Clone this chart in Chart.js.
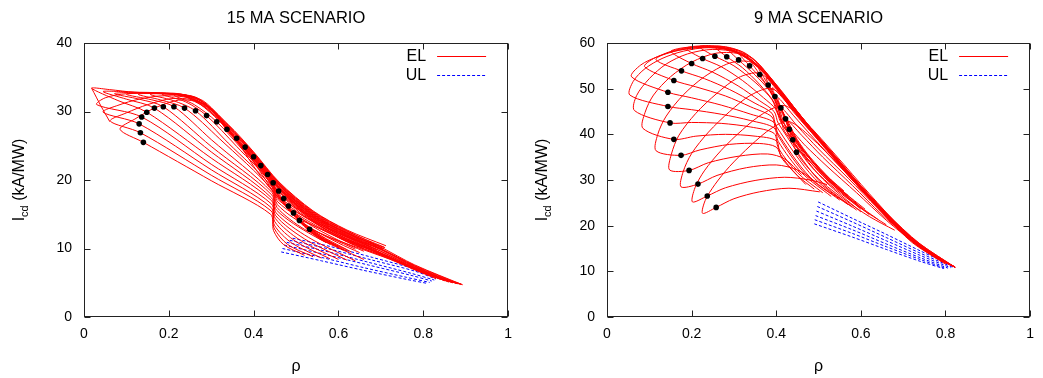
<!DOCTYPE html>
<html>
<head>
<meta charset="utf-8">
<script src="https://cdn.jsdelivr.net/npm/chart.js@4.4.1/dist/chart.umd.min.js"></script>
<style>
  body { margin: 0; background: #fff; width: 1043px; height: 378px; overflow: hidden; }
  canvas { position: absolute; top: 0; }
</style>
</head>
<body>
<canvas id="c15" width="521" height="378" style="left:0"></canvas>
<canvas id="c9" width="522" height="378" style="left:521px"></canvas>
<script>
// tick values
const xTicks = [0, 0.2, 0.4, 0.6, 0.8, 1];
const yTicks15 = [0, 10, 20, 30, 40];
const yTicks9 = [0, 10, 20, 30, 40, 50, 60];

// 15 MA: black markers
const rho15Dots = [0.140,0.133,0.130,0.136,0.148,0.166,0.187,0.212,0.237,0.263,0.289,0.313,0.337,0.360,0.380,0.400,0.417,0.433,0.446,0.459,0.471,0.482,0.494,0.508,0.532];
const icd15Dots = [25.5,26.9,28.2,29.2,29.9,30.5,30.7,30.7,30.5,30.1,29.4,28.5,27.4,26.1,24.8,23.4,22.1,20.8,19.6,18.4,17.3,16.2,15.2,14.1,12.8];

// 15 MA: EL curves, [rho, Icd]
const el15Curves = [
  [[.018,33.4],[.04,30.8],[.061,28.5]],
  [[.52,9.0],[.47,10.6],[.447,12.6],[.44,15.0],[.30,19.9],[.14,25.5],[.085,27.4],[.12,28.9],[.17,30.6],[.23,31.7],[.29,30.9],[.34,28.0],[.40,24.0],[.46,19.6],[.54,15.4],[.62,12.6],[.70,10.2],[.78,7.6],[.893,4.7]],
  [[.54,8.8],[.48,10.6],[.448,13.0],[.441,15.5],[.30,20.7],[.133,26.9],[.062,28.6],[.10,29.8],[.15,31.0],[.21,31.9],[.27,31.4],[.34,27.8],[.40,23.8],[.46,19.4],[.54,15.2],[.62,12.4],[.70,10.0],[.78,7.5],[.888,4.75]],
  [[.56,8.6],[.49,10.8],[.449,13.4],[.441,16.0],[.30,21.5],[.13,28.2],[.045,29.9],[.08,30.9],[.13,31.8],[.19,32.3],[.26,31.7],[.34,27.6],[.40,23.6],[.46,19.2],[.54,15.0],[.62,12.2],[.70,9.9],[.78,7.4],[.88,4.85]],
  [[.58,8.5],[.50,11.0],[.45,13.9],[.442,16.5],[.30,22.3],[.136,29.2],[.03,31.0],[.05,32.0],[.10,32.6],[.17,32.6],[.25,32.0],[.34,27.4],[.40,23.4],[.46,19.0],[.54,14.8],[.62,12.0],[.70,9.8],[.78,7.3],[.87,5.0]],
  [[.60,8.4],[.51,11.2],[.451,14.4],[.442,17.0],[.30,23.2],[.148,29.9],[.08,31.6],[.018,33.4],[.06,33.2],[.12,32.8],[.20,32.6],[.27,31.7],[.34,28.1],[.40,24.1],[.46,19.7],[.54,15.5],[.62,12.7],[.712,10.4]],
  [[.62,8.3],[.52,11.4],[.452,14.8],[.442,17.4],[.30,24.1],[.166,30.5],[.10,31.8],[.045,32.9],[.09,32.9],[.15,32.7],[.22,32.4],[.28,31.2],[.34,27.9],[.40,23.9],[.46,19.5],[.54,15.3],[.62,12.5],[.708,10.2]],
  [[.64,8.2],[.53,11.6],[.453,15.2],[.443,17.8],[.30,24.9],[.187,30.7],[.13,31.8],[.072,32.6],[.12,32.8],[.18,32.7],[.24,32.2],[.30,30.3],[.34,27.2],[.40,23.2],[.46,18.8],[.54,14.6],[.62,11.8],[.70,9.6],[.78,7.2],[.86,5.15]],
  [[.66,8.4],[.54,11.9],[.454,15.6],[.443,18.2],[.30,25.9],[.212,30.7],[.16,31.7],[.10,32.5],[.15,32.7],[.21,32.6],[.27,31.8],[.34,27.7],[.40,23.7],[.46,19.3],[.54,15.1],[.62,12.3],[.705,10.0]],
  [[.62,9.8],[.52,12.8],[.455,16.0],[.443,18.6],[.32,26.0],[.237,30.5],[.18,31.7],[.128,32.5],[.18,32.7],[.24,32.4],[.30,30.2],[.34,27.0],[.40,23.0],[.46,18.6],[.54,14.4],[.62,11.6],[.70,9.4],[.78,7.1],[.85,5.3]],
  [[.64,9.9],[.53,13.1],[.456,16.4],[.443,19.0],[.34,25.4],[.263,30.1],[.21,31.6],[.156,32.5],[.21,32.6],[.27,31.9],[.32,28.8],[.36,25.9],[.40,22.8],[.46,18.4],[.54,14.2],[.62,11.4],[.70,9.3],[.78,7.0],[.84,5.5]],
  [[.66,10.0],[.54,13.4],[.457,16.8],[.444,19.3],[.36,24.9],[.289,29.4],[.24,31.4],[.184,32.5],[.24,32.4],[.29,31.0],[.34,27.3],[.40,23.3],[.46,18.9],[.54,14.7],[.62,11.9],[.70,9.9]],
  [[.68,10.1],[.55,13.7],[.458,17.1],[.444,19.6],[.38,24.0],[.313,28.5],[.26,31.0],[.212,32.4],[.26,32.1],[.31,29.8],[.36,25.6],[.40,22.6],[.46,18.2],[.54,14.0],[.62,11.2],[.70,9.2],[.78,6.9],[.83,5.6]],
  [[.69,10.4],[.56,14.0],[.459,17.5],[.444,19.9],[.39,23.6],[.337,27.4],[.29,30.4],[.24,32.2],[.28,31.6],[.32,29.2],[.36,25.9],[.40,23.1],[.46,18.7],[.54,14.5],[.62,11.7],[.69,9.8]],
  [[.66,9.6],[.60,11.2],[.52,14.0],[.45,18.0],[.40,22.0],[.36,26.1],[.40,23.2],[.46,19.0],[.54,14.9],[.62,12.1],[.70,9.9],[.78,7.4],[.85,5.4]],
  [[.65,9.4],[.60,10.8],[.52,13.6],[.46,17.2],[.42,20.8],[.38,24.8],[.42,22.0],[.46,19.2],[.54,15.0],[.62,12.2],[.71,10.1]],
  [[.63,9.5],[.54,12.6],[.48,16.0],[.44,19.4],[.40,23.4],[.44,20.8],[.50,16.8],[.56,13.9],[.62,11.9],[.70,9.6],[.78,7.2],[.88,4.85]],
  [[.62,9.6],[.55,12.0],[.49,15.2],[.45,18.4],[.417,22.1],[.46,19.0],[.52,15.4],[.60,12.2],[.705,9.9]],
  [[.61,9.8],[.56,11.6],[.50,14.6],[.46,17.6],[.433,20.8],[.47,18.2],[.52,15.2],[.60,12.0],[.68,9.9],[.78,7.0],[.87,5.0]],
  [[.60,10.2],[.56,11.8],[.51,14.0],[.47,16.8],[.446,19.6],[.48,17.4],[.54,14.2],[.62,11.4],[.70,9.3],[.78,7.1],[.86,5.1]],
  [[.59,10.4],[.57,11.2],[.52,13.4],[.48,16.0],[.459,18.4],[.50,16.0],[.56,13.2],[.62,11.2],[.70,9.2],[.72,8.8]],
  [[.58,10.6],[.53,12.8],[.49,15.2],[.471,17.3],[.51,15.2],[.58,12.4],[.66,10.2],[.76,7.6],[.85,5.3]],
  [[.57,10.9],[.54,12.2],[.50,14.4],[.482,16.2],[.52,14.6],[.60,11.8],[.68,9.7],[.78,7.0],[.89,4.8]],
  [[.57,10.9],[.55,11.8],[.52,13.4],[.494,15.2],[.54,13.6],[.62,11.0],[.70,9.0],[.80,6.4],[.87,5.0]],
  [[.58,10.7],[.56,11.4],[.53,12.6],[.508,14.1],[.56,12.8],[.64,10.4],[.72,8.6],[.80,6.5],[.88,4.9]],
  [[.57,10.9],[.55,11.6],[.532,12.8],[.58,11.6],[.66,9.8],[.74,8.0],[.82,6.0],[.89,4.75]]
];

// 15 MA: UL curves
const ul15Curves = [
  [[.465,9.5],[.56,8.2],[.66,6.8],[.76,5.5],[.81,4.9]],
  [[.468,10.0],[.56,8.7],[.66,7.2],[.76,5.8],[.815,5.05]],
  [[.472,10.5],[.57,9.1],[.67,7.6],[.77,6.1],[.82,5.25]],
  [[.478,10.9],[.57,9.6],[.67,8.0],[.77,6.4],[.826,5.4]],
  [[.485,11.2],[.58,9.9],[.68,8.3],[.78,6.7],[.83,5.55]],
  [[.492,11.5],[.58,10.3],[.68,8.7],[.78,7.0],[.834,5.7]]
];

// 9 MA: black markers
const rho9Dots = [0.258,0.237,0.215,0.194,0.175,0.158,0.149,0.144,0.144,0.158,0.176,0.200,0.226,0.255,0.283,0.311,0.337,0.361,0.381,0.397,0.411,0.422,0.431,0.439,0.448];
const icd9Dots = [24.0,26.5,29.1,32.1,35.4,38.9,42.5,46.1,49.2,51.8,53.9,55.5,56.6,57.1,57.0,56.3,55.0,53.1,50.8,48.3,45.8,43.4,41.1,38.8,36.1];

// 9 MA: EL curves
const el9Curves = [
  [[.503,27.4],[.43,28.2],[.36,27.4],[.30,25.9],[.258,24.0],[.226,22.7],[.232,25.5],[.255,29.0],[.29,33.0],[.34,37.6],[.39,41.4],[.43,42.8],[.48,39.5],[.55,33.0],[.62,26.0],[.70,18.8],[.76,14.3],[.823,10.9]],
  [[.52,29.0],[.48,30.0],[.42,30.6],[.35,29.9],[.28,28.3],[.237,26.5],[.202,25.2],[.208,28.3],[.23,32.0],[.27,36.5],[.32,41.0],[.37,44.6],[.42,46.3],[.47,42.6],[.54,35.5],[.62,27.0],[.70,19.0],[.76,14.4],[.82,11.0]],
  [[.49,29.8],[.45,32.2],[.40,33.3],[.33,32.7],[.26,31.0],[.215,29.1],[.175,28.5],[.18,31.8],[.20,35.8],[.24,40.5],[.29,45.0],[.34,48.6],[.39,50.0],[.44,45.5],[.52,37.0],[.60,28.6],[.68,20.8],[.75,14.9],[.815,11.2]],
  [[.46,31.2],[.42,34.6],[.38,35.7],[.31,35.2],[.24,33.8],[.194,32.1],[.148,32.2],[.152,35.6],[.17,39.8],[.21,44.6],[.26,49.0],[.31,52.4],[.36,53.4],[.40,50.2],[.46,43.6],[.54,35.2],[.62,26.6],[.70,18.6],[.76,14.2],[.81,11.4]],
  [[.47,29.0],[.415,34.5],[.40,37.2],[.36,38.0],[.29,37.8],[.22,36.6],[.175,35.4],[.116,36.4],[.12,40.0],[.14,44.0],[.18,48.6],[.23,52.6],[.29,55.6],[.34,55.8],[.385,52.0],[.44,45.0],[.52,36.6],[.60,28.0],[.68,20.0],[.74,15.2],[.80,11.6]],
  [[.49,28.0],[.45,31.0],[.41,35.6],[.40,38.6],[.35,39.6],[.28,40.0],[.21,39.6],[.158,38.9],[.085,41.3],[.09,44.8],[.11,48.6],[.15,52.6],[.20,55.8],[.26,57.8],[.32,57.4],[.37,53.6],[.43,46.4],[.50,38.6],[.58,30.0],[.66,22.0],[.72,16.4],[.79,12.2]],
  [[.51,27.2],[.45,31.6],[.405,37.0],[.395,40.2],[.34,41.6],[.27,42.4],[.20,42.6],[.149,42.5],[.065,45.2],[.07,48.5],[.10,52.2],[.14,55.4],[.19,57.6],[.25,58.6],[.31,57.8],[.36,54.6],[.42,47.8],[.49,40.0],[.57,31.4],[.65,23.2],[.72,16.6],[.80,11.8]],
  [[.53,26.4],[.46,31.6],[.405,38.4],[.395,41.4],[.34,43.0],[.27,44.4],[.20,45.4],[.144,46.1],[.054,48.6],[.062,51.6],[.09,54.4],[.13,56.6],[.18,58.2],[.24,59.0],[.30,58.3],[.35,55.6],[.41,49.2],[.48,41.2],[.56,32.4],[.64,24.0],[.71,17.4],[.78,12.8]],
  [[.55,25.6],[.47,31.2],[.405,39.6],[.395,42.6],[.34,44.4],[.27,46.4],[.20,48.0],[.144,49.2],[.058,52.6],[.08,55.2],[.12,57.0],[.17,58.4],[.23,59.0],[.29,58.4],[.34,56.0],[.40,50.6],[.47,42.6],[.55,33.6],[.63,25.0],[.70,18.6],[.77,13.4]],
  [[.57,24.6],[.48,30.6],[.40,40.8],[.39,43.8],[.34,46.0],[.28,48.4],[.21,50.4],[.158,51.8],[.089,54.8],[.11,56.6],[.15,58.0],[.20,58.9],[.26,59.0],[.31,57.8],[.36,54.4],[.42,48.0],[.49,40.2],[.57,31.4],[.65,23.0],[.72,16.8],[.82,11.0]],
  [[.58,24.0],[.49,30.4],[.40,41.8],[.39,44.6],[.35,46.8],[.29,49.8],[.23,52.2],[.176,53.9],[.116,56.3],[.14,57.8],[.18,58.8],[.23,59.2],[.28,58.8],[.33,56.8],[.38,52.6],[.44,45.8],[.51,37.8],[.59,29.0],[.67,21.0],[.74,15.4],[.822,10.9]],
  [[.59,23.4],[.50,30.0],[.405,42.4],[.395,45.0],[.36,47.4],[.31,50.6],[.25,53.6],[.20,55.5],[.151,58.1],[.17,58.8],[.21,59.2],[.26,59.2],[.31,58.0],[.36,54.8],[.42,48.4],[.49,40.4],[.57,31.6],[.65,23.2],[.72,16.8],[.821,10.95]],
  [[.60,23.0],[.50,31.2],[.41,42.8],[.40,45.4],[.37,48.0],[.32,51.8],[.27,54.8],[.226,56.6],[.187,58.8],[.21,59.3],[.25,59.3],[.29,58.7],[.34,56.2],[.39,51.6],[.45,44.6],[.53,36.0],[.61,27.4],[.69,19.8],[.76,14.2],[.823,10.9]],
  [[.61,23.6],[.51,31.4],[.405,44.2],[.39,47.6],[.35,51.4],[.30,55.0],[.255,57.1],[.218,59.2],[.25,59.4],[.29,58.9],[.33,57.2],[.38,52.8],[.44,45.6],[.52,37.0],[.60,28.4],[.68,20.6],[.75,15.0],[.82,11.0]],
  [[.56,27.6],[.50,32.6],[.41,43.4],[.395,47.0],[.36,51.0],[.32,54.6],[.283,57.0],[.255,59.2],[.29,59.0],[.33,57.6],[.37,54.2],[.42,48.0],[.50,39.2],[.58,30.6],[.66,22.6],[.74,15.8],[.815,11.2]],
  [[.54,29.0],[.49,33.6],[.415,42.0],[.405,45.4],[.385,49.4],[.35,53.0],[.311,56.3],[.285,58.8],[.32,58.0],[.36,55.2],[.41,49.6],[.48,41.6],[.56,32.8],[.64,24.4],[.72,17.2],[.80,11.8]],
  [[.55,27.6],[.50,32.0],[.42,40.6],[.41,44.0],[.395,48.0],[.37,51.6],[.337,55.0],[.312,57.8],[.345,56.6],[.385,52.6],[.43,47.2],[.50,39.4],[.58,30.8],[.66,22.8],[.74,16.0],[.823,10.9]],
  [[.57,26.6],[.52,30.4],[.44,38.0],[.42,42.0],[.405,46.0],[.385,49.6],[.361,53.1],[.338,56.4],[.37,54.0],[.41,49.8],[.46,43.8],[.53,36.2],[.61,27.6],[.69,20.0],[.76,14.2],[.82,11.0]],
  [[.58,25.4],[.53,29.8],[.47,35.6],[.44,39.6],[.42,43.4],[.40,47.4],[.381,50.8],[.358,54.6],[.39,51.6],[.43,46.8],[.49,40.2],[.56,32.6],[.64,24.6],[.72,17.4],[.818,11.1]],
  [[.60,23.6],[.55,27.6],[.50,32.4],[.46,37.0],[.435,41.0],[.415,45.0],[.397,48.3],[.376,52.4],[.41,48.8],[.45,44.4],[.51,37.8],[.58,30.2],[.66,22.6],[.74,15.8],[.82,11.0]],
  [[.60,24.0],[.53,30.0],[.48,35.0],[.45,38.8],[.43,42.4],[.411,45.8],[.391,50.2],[.43,46.4],[.47,42.0],[.53,35.6],[.60,28.2],[.68,20.6],[.75,15.0],[.82,11.0]],
  [[.62,22.4],[.56,27.0],[.50,32.4],[.465,36.4],[.44,40.0],[.422,43.4],[.404,48.0],[.44,44.2],[.49,39.0],[.55,33.0],[.62,26.0],[.70,18.8],[.77,13.6],[.82,11.0]],
  [[.64,21.4],[.58,25.4],[.52,30.0],[.48,34.0],[.45,37.8],[.431,41.1],[.414,45.6],[.45,41.8],[.50,36.8],[.57,30.4],[.64,23.8],[.71,17.8],[.78,13.0],[.822,11.0]],
  [[.66,20.2],[.60,23.8],[.54,28.0],[.49,32.2],[.46,35.6],[.439,38.8],[.424,43.2],[.46,39.8],[.51,35.0],[.58,28.8],[.65,22.4],[.72,16.8],[.79,12.4],[.822,11.0]],
  [[.68,19.0],[.62,22.0],[.56,25.8],[.51,29.4],[.47,33.2],[.448,36.1],[.434,40.8],[.47,37.4],[.52,33.0],[.59,27.2],[.66,21.2],[.73,16.0],[.79,12.4],[.823,10.9]]
];

// 9 MA: UL curves
const ul9Curves = [
  [[.499,25.2],[.58,21.6],[.66,18.1],[.74,14.5],[.823,10.9]],
  [[.497,24.2],[.58,20.8],[.66,17.4],[.74,14.0],[.818,10.85]],
  [[.495,23.2],[.58,19.9],[.66,16.7],[.74,13.5],[.812,10.8]],
  [[.493,22.2],[.58,19.1],[.66,16.0],[.74,13.0],[.806,10.7]],
  [[.491,21.3],[.58,18.3],[.66,15.4],[.74,12.6],[.80,10.65]],
  [[.490,20.4],[.58,17.5],[.66,14.8],[.74,12.2],[.796,10.6]]
];

const FONT = "'Liberation Sans', Arial, Helvetica, sans-serif";

const framePlugin = {
  id: 'frame',
  afterDraw(chart, args, o) {
    const { ctx, chartArea: a, scales } = chart;
    ctx.save();
    ctx.strokeStyle = '#222';
    ctx.lineWidth = 1;
    const L = Math.round(a.left) + 0.5, R = Math.round(a.right) - 0.5;
    const T = Math.round(a.top) + 0.5, B = Math.round(a.bottom) - 0.5;
    ctx.strokeRect(L, T, R - L, B - T);
    ctx.beginPath();
    xTicks.forEach(v => {
      const px = Math.round(scales.x.getPixelForValue(v)) + 0.5;
      ctx.moveTo(px, B); ctx.lineTo(px, B - 6);
      ctx.moveTo(px, T); ctx.lineTo(px, T + 6);
    });
    o.yTicks.forEach(v => {
      const py = Math.round(scales.y.getPixelForValue(v)) + 0.5;
      ctx.moveTo(L, py); ctx.lineTo(L + 6, py);
      ctx.moveTo(R, py); ctx.lineTo(R - 6, py);
    });
    ctx.stroke();

    // legend
    ctx.fillStyle = '#000';
    ctx.font = '16px ' + FONT;
    ctx.textAlign = 'right';
    ctx.textBaseline = 'middle';
    ctx.fillText('EL', a.right - 82, a.top + 14);
    ctx.fillText('UL', a.right - 82, a.top + 33);
    ctx.strokeStyle = '#ff0000';
    ctx.beginPath(); ctx.moveTo(a.right - 71, a.top + 13.5); ctx.lineTo(a.right - 22, a.top + 13.5); ctx.stroke();
    ctx.strokeStyle = '#0000ff';
    ctx.setLineDash([3, 2]);
    ctx.beginPath(); ctx.moveTo(a.right - 71, a.top + 32.5); ctx.lineTo(a.right - 22, a.top + 32.5); ctx.stroke();
    ctx.setLineDash([]);

    // title and x label
    const cx = (a.left + a.right) / 2;
    ctx.textAlign = 'center';
    ctx.textBaseline = 'alphabetic';
    ctx.font = '16.5px ' + FONT;
    ctx.fillText(o.title, cx, 23);
    ctx.font = '16px ' + FONT;
    ctx.fillText('\u03c1', cx, 371);

    // y label with subscript
    ctx.save();
    ctx.translate(o.yLabelX, (a.top + a.bottom) / 2);
    ctx.rotate(-Math.PI / 2);
    ctx.textAlign = 'left';
    const big = '16px ' + FONT, small = '11px ' + FONT;
    ctx.font = big; const w1 = ctx.measureText('I').width;
    ctx.font = small; const w2 = ctx.measureText('cd').width;
    ctx.font = big; const w3 = ctx.measureText(' (kA/MW)').width;
    let x0 = -(w1 + w2 + w3) / 2;
    ctx.font = big; ctx.fillText('I', x0, 6);
    ctx.font = small; ctx.fillText('cd', x0 + w1, 10);
    ctx.font = big; ctx.fillText(' (kA/MW)', x0 + w1 + w2, 6);
    ctx.restore();
    ctx.restore();
  }
};

function makeChart(id, cfg) {
  const datasets = [];
  datasets.push({
    data: cfg.dotRho.map((r, i) => ({ x: r, y: cfg.dotI[i] })),
    showLine: false, pointRadius: 2.8,
    backgroundColor: '#000', borderColor: '#000',
    pointBackgroundColor: '#000', pointBorderColor: '#000',
    pointBorderWidth: 0, order: 0
  });
  cfg.el.forEach(c => datasets.push({
    data: c.map(p => ({ x: p[0], y: p[1] })),
    showLine: true, borderColor: '#ff0000', borderWidth: 1,
    pointRadius: 0, tension: 0.3, order: 1
  }));
  cfg.ul.forEach(c => datasets.push({
    data: c.map(p => ({ x: p[0], y: p[1] })),
    showLine: true, borderColor: '#0000ff', borderWidth: 1, borderDash: [3, 2],
    pointRadius: 0, tension: 0.3, order: 2
  }));

  return new Chart(document.getElementById(id), {
    type: 'scatter',
    data: { datasets },
    options: {
      responsive: false,
      animation: false,
      devicePixelRatio: 1,
      layout: { padding: cfg.padding },
      plugins: {
        legend: { display: false },
        tooltip: { enabled: false },
        frame: { title: cfg.title, yTicks: cfg.yTicks, yLabelX: cfg.yLabelX }
      },
      scales: {
        x: {
          type: 'linear', min: 0, max: 1,
          afterBuildTicks: s => { s.ticks = xTicks.map(v => ({ value: v })); },
          afterFit: s => { s.height = 40; },
          ticks: { padding: 9, color: '#000', font: { family: FONT, size: 14 },
                   callback: v => String(+v.toFixed(1)) },
          grid: { display: false, drawTicks: false },
          border: { display: false }
        },
        y: {
          type: 'linear', min: 0, max: cfg.yMax,
          afterBuildTicks: s => { s.ticks = cfg.yTicks.map(v => ({ value: v })); },
          afterFit: s => { s.width = 50; },
          ticks: { padding: 12, color: '#000', font: { family: FONT, size: 14 } },
          grid: { display: false, drawTicks: false },
          border: { display: false }
        }
      }
    },
    plugins: [framePlugin]
  });
}

makeChart('c15', {
  title: '15 MA SCENARIO', yMax: 40, yTicks: yTicks15, yLabelX: 18,
  dotRho: rho15Dots, dotI: icd15Dots, el: el15Curves, ul: ul15Curves,
  padding: { left: 34, right: 12, top: 43, bottom: 21 }
});

makeChart('c9', {
  title: '9 MA SCENARIO', yMax: 60, yTicks: yTicks9, yLabelX: 20,
  dotRho: rho9Dots, dotI: icd9Dots, el: el9Curves, ul: ul9Curves,
  padding: { left: 36, right: 9, top: 43, bottom: 21 }
});
</script>
</body>
</html>
